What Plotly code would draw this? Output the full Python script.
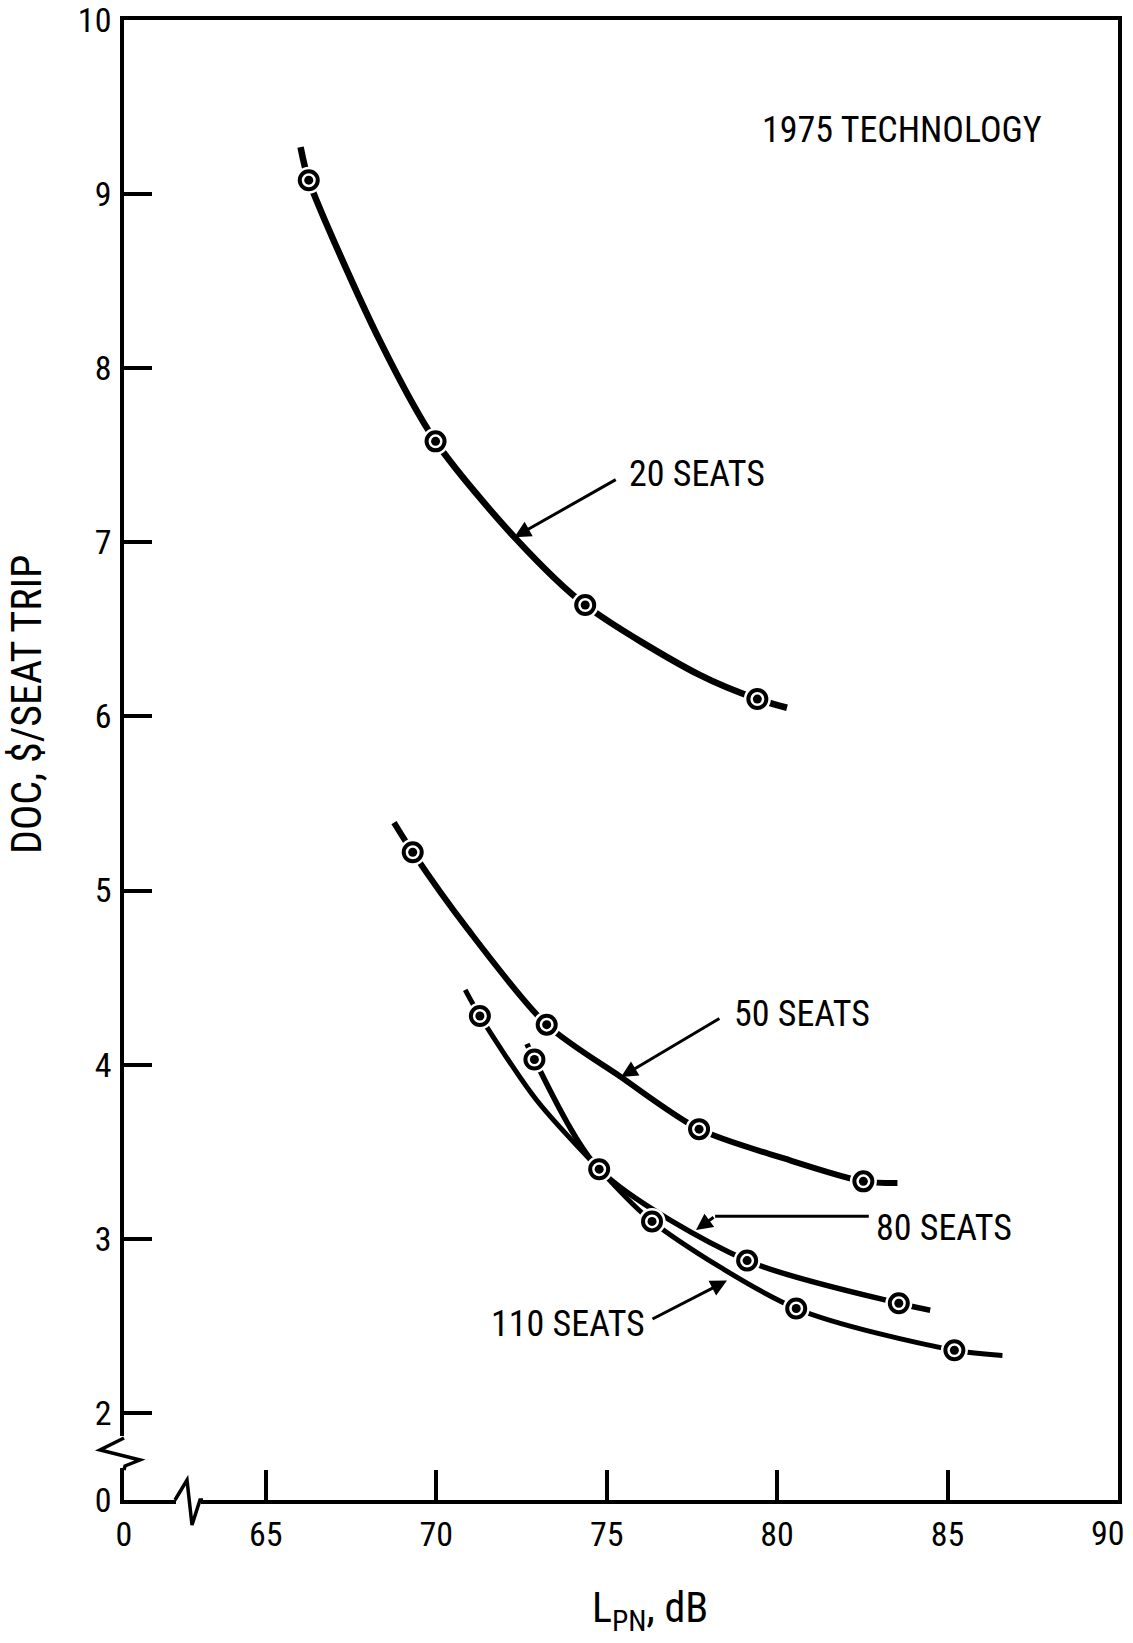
import plotly.graph_objects as go

# ---------------- data ----------------
# axis origin values used for the broken axes
x_origin = 60.84
y_origin = 1.5
x_ticks = [x_origin, 65, 70, 75, 80, 85, 90]
x_ticktext = ["0", "65", "70", "75", "80", "85", "90"]
y_ticks = [y_origin, 2, 3, 4, 5, 6, 7, 8, 9, 10]
y_ticktext = ["0", "2", "3", "4", "5", "6", "7", "8", "9", "10"]

# plotted (marked) points
s20_x = [66.26, 69.98, 74.37, 79.42]
s20_y = [9.08, 7.58, 6.64, 6.10]
s50_x = [69.31, 73.24, 77.71, 82.53]
s50_y = [5.22, 4.23, 3.63, 3.33]
s80_x = [72.88, 74.78, 79.12, 83.57]
s80_y = [4.03, 3.40, 2.875, 2.63]
s110_x = [71.28, 76.33, 80.56, 85.20]
s110_y = [4.28, 3.10, 2.60, 2.36]

# faired curves
c20_x = [66.02, 66.26, 68.34, 69.98, 72.34, 74.37, 77.71, 79.42, 80.29]
c20_y = [9.27, 9.08, 8.16, 7.58, 7.02, 6.64, 6.24, 6.10, 6.05]
c50_x = [68.76, 69.31, 70.88, 73.24, 75.41, 77.71, 80.23, 82.53, 83.53]
c50_y = [5.39, 5.22, 4.79, 4.23, 3.93, 3.63, 3.46, 3.33, 3.32]
c80_x = [72.66, 72.88, 74.78, 79.12, 83.57, 84.49]
c80_y = [4.12, 4.03, 3.40, 2.875, 2.63, 2.59]
c110_x = [70.85, 71.28, 72.93, 74.78, 76.33, 80.56, 85.20, 86.61]
c110_y = [4.43, 4.28, 3.80, 3.40, 3.10, 2.60, 2.36, 2.33]

series = [
    ("20 SEATS", c20_x, c20_y, s20_x, s20_y, 6.5),
    ("50 SEATS", c50_x, c50_y, s50_x, s50_y, 6),
    ("80 SEATS", c80_x, c80_y, s80_x, s80_y, 5.5),
    ("110 SEATS", c110_x, c110_y, s110_x, s110_y, 5),
]

FONT = "Liberation Sans Narrow, Roboto Condensed, DejaVu Sans Condensed, Roboto, sans-serif"
W, H = 1133, 1643
ML, MR, MT, MB = 124, 15, 20, 143

fig = go.Figure()
for name, cx, cy, sx, sy, lw in series:
    fig.add_trace(go.Scatter(x=cx, y=cy, mode="lines", name=name,
                             line=dict(color="black", width=lw, shape="spline", smoothing=0.8),
                             showlegend=False, hoverinfo="skip"))
for name, cx, cy, sx, sy, lw in series:
    fig.add_trace(go.Scatter(x=sx, y=sy, mode="markers", showlegend=False,
                             marker=dict(size=27, color="white", line=dict(width=0))))
    fig.add_trace(go.Scatter(x=sx, y=sy, mode="markers", showlegend=False,
                             marker=dict(size=18, color="white", line=dict(width=4, color="black"))))
    fig.add_trace(go.Scatter(x=sx, y=sy, mode="markers", showlegend=False,
                             marker=dict(size=9, color="black", line=dict(width=0))))

# ---------------- labels and arrows ----------------
ann = []
def label(text, x, y, xanchor="left", size=36):
    ann.append(dict(text=text, x=x, y=y, xref="x", yref="y", showarrow=False,
                    xanchor=xanchor, yanchor="middle", font=dict(family=FONT, size=size, color="black")))

def arrow(x0, y0, x1, y1):
    ann.append(dict(text=" ", x=x1, y=y1, ax=x0, ay=y0, xref="x", yref="y", axref="x", ayref="y",
                    showarrow=True, arrowhead=2, arrowsize=1.1, arrowwidth=3, arrowcolor="black",
                    font=dict(size=2)))

label("1975 TECHNOLOGY", 83.65, 9.37, xanchor="center")
label("20 SEATS", 75.6, 7.39)
arrow(75.31, 7.365, 72.29, 7.03)
label("50 SEATS", 78.67, 4.29)
arrow(78.35, 4.27, 75.42, 3.93)
label("80 SEATS", 82.83, 3.06)
arrow(78.18, 3.13, 77.62, 3.05)
label("110 SEATS", 76.17, 2.51, xanchor="right")
arrow(76.30, 2.535, 78.53, 2.76)

# axis titles
def px_x(px):
    return (px - ML) / (W - ML - MR)

def px_y(py):
    return (H - MB - py) / (H - MT - MB)

ann.append(dict(text="DOC, $/SEAT TRIP", x=px_x(26), y=px_y(705), xref="paper", yref="paper",
                showarrow=False, textangle=-90, xanchor="center", yanchor="middle",
                font=dict(family=FONT, size=42, color="black")))
ann.append(dict(text="L<sub>PN</sub>, dB", x=px_x(650), y=px_y(1610), xref="paper", yref="paper",
                showarrow=False, xanchor="center", yanchor="middle",
                font=dict(family=FONT, size=42, color="black")))

# last x tick label sits just inside the page edge in the reference
ticktext_shown = x_ticktext[:-1] + [""]
ann.append(dict(text=x_ticktext[-1], x=px_x(1108), y=px_y(1533), xref="paper", yref="paper",
                showarrow=False, xanchor="center", yanchor="middle",
                font=dict(family=FONT, size=34, color="black")))

# ---------------- shapes: leader line and axis breaks ----------------
shapes = [
    dict(type="line", x0=82.69, y0=3.13, x1=78.18, y1=3.13, xref="x", yref="y",
         line=dict(color="black", width=3)),
]
# y-axis break
shapes.append(dict(type="rect", xref="paper", yref="paper",
                   x0=px_x(119), x1=px_x(129), y0=px_y(1468), y1=px_y(1436),
                   fillcolor="white", line=dict(width=0), layer="above"))
yb = [(124, 1438), (100, 1450), (140, 1460), (125, 1466), (124, 1470)]
shapes.append(dict(type="path", xref="paper", yref="paper", layer="above",
                   path="M " + " L ".join(f"{px_x(a)},{px_y(b)}" for a, b in yb),
                   line=dict(color="black", width=3.5)))
# x-axis break
shapes.append(dict(type="rect", xref="paper", yref="paper",
                   x0=px_x(176), x1=px_x(201), y0=px_y(1504), y1=px_y(1496),
                   fillcolor="white", line=dict(width=0), layer="above"))
xb = [(175, 1500), (187, 1480), (192, 1525), (200, 1500), (203, 1500)]
shapes.append(dict(type="path", xref="paper", yref="paper", layer="above",
                   path="M " + " L ".join(f"{px_x(a)},{px_y(b)}" for a, b in xb),
                   line=dict(color="black", width=3.5)))

fig.update_layout(
    width=W, height=H,
    margin=dict(l=ML, r=MR, t=MT, b=MB, pad=0, autoexpand=False),
    paper_bgcolor="white", plot_bgcolor="white",
    annotations=ann, shapes=shapes,
    font=dict(family=FONT, size=30, color="black"),
    xaxis=dict(range=[x_origin, 90], tickmode="array", tickvals=x_ticks, ticktext=ticktext_shown,
               ticks="inside", ticklen=30, tickwidth=3.5, tickcolor="black",
               showline=True, linewidth=3.5, linecolor="black", mirror=True,
               showgrid=False, zeroline=False, ticklabelstandoff=1, automargin=False,
               ticklabeloverflow="allow",
               tickfont=dict(family=FONT, size=34, color="black")),
    yaxis=dict(range=[y_origin, 10], tickmode="array", tickvals=y_ticks, ticktext=y_ticktext,
               ticks="inside", ticklen=28, tickwidth=3.5, tickcolor="black",
               showline=True, linewidth=3.5, linecolor="black", mirror=True,
               showgrid=False, zeroline=False, ticklabelstandoff=2, automargin=False,
               ticklabeloverflow="allow",
               tickfont=dict(family=FONT, size=34, color="black")),
)

fig.write_html("out.html")
